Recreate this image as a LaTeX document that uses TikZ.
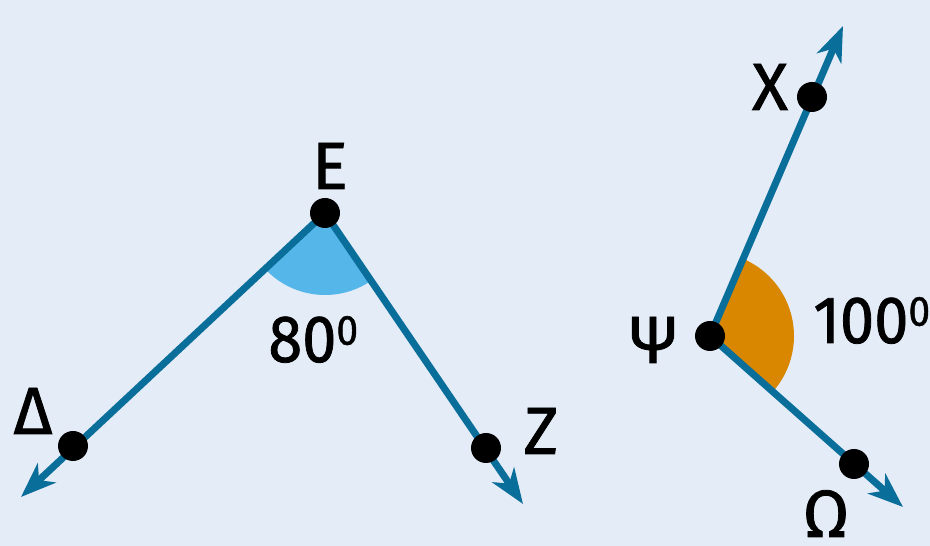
\documentclass[tikz,border=0pt]{standalone}
\usepackage{fontspec}
\setmainfont{Fira Sans}
\newfontfamily\medfont{Fira Sans}[FakeBold=1.2]
\usetikzlibrary{calc, arrows.meta}
\usetikzlibrary{backgrounds}

\definecolor{bgblue}{HTML}{E4ECF7}
\definecolor{raycol}{HTML}{0A6E9A}
\definecolor{skyfill}{HTML}{55B6E9}
\definecolor{orangefill}{HTML}{D98600}

\newcommand{\supzero}{\raisebox{0.26em}{\fontsize{24}{24}\selectfont 0}}
\newcommand{\narrow}[1]{\scalebox{0.92}[1]{#1}}

\tikzset{
  ray/.style = {draw = raycol, line width = 4pt, -{Stealth[length=20pt, width=15pt, inset=6pt]}},
  pt/.style = {circle, fill = black, inner sep = 0pt, minimum size = 0.6cm},
  lbl/.style = {anchor = base, inner sep = 0pt, font = \fontsize{38}{40}\selectfont\medfont}
}

\begin{document}
\begin{tikzpicture}[x = 0.02cm, y = 0.02cm]

    \useasboundingbox (0,0) rectangle (930,546);

    %points of the first angle
    \node[pt] (E) at (325,333) {};
    \node[pt] (D) at (73,100) {};
    \node[pt] (Z) at (486,98) {};
    \coordinate (tipD) at (21,49);
    \coordinate (tipZ) at (523,42);

    %points of the second angle
    \node[pt] (Psi) at (710,210) {};
    \node[pt] (X) at (812,449) {};
    \node[pt] (Om) at (854,82) {};
    \coordinate (tipX) at (843,520);
    \coordinate (tipOm) at (903,39);

    \begin{scope}[on background layer]
      \fill[bgblue] (0,0) rectangle (930,546);

      %angle sectors
      \fill[skyfill] (E.center) -- ++(222.8:82) arc[start angle = 222.8, end angle = 304.4, radius = 82] -- cycle;
      \fill[orangefill] (Psi.center) -- ++(-41.6:84) arc[start angle = -41.6, end angle = 66.9, radius = 84] -- cycle;

      %rays
      \draw[ray] (E.center) -- (tipD);
      \draw[ray] (E.center) -- (tipZ);
      \draw[ray] (Psi.center) -- (tipX);
      \draw[ray] (Psi.center) -- (tipOm);
    \end{scope}

    %labels
    \node[lbl] (lE) at (330,357) {E};
    \node[lbl] (lD) at (33,112) {Δ};
    \node[lbl] (lZ) at (541,92) {Z};
    \node[lbl] (lX) at (770,436) {X};
    \node[lbl] (lPsi) at (653,183) {Ψ};
    \node[lbl] (lOm) at (826,9) {Ω};

    \node[lbl, anchor = base west] (a80) at (268,184) {\narrow{80\supzero}};
    \node[lbl, anchor = base west] (a100) at (813,203) {\narrow{100\supzero}};

\end{tikzpicture}
\end{document}
